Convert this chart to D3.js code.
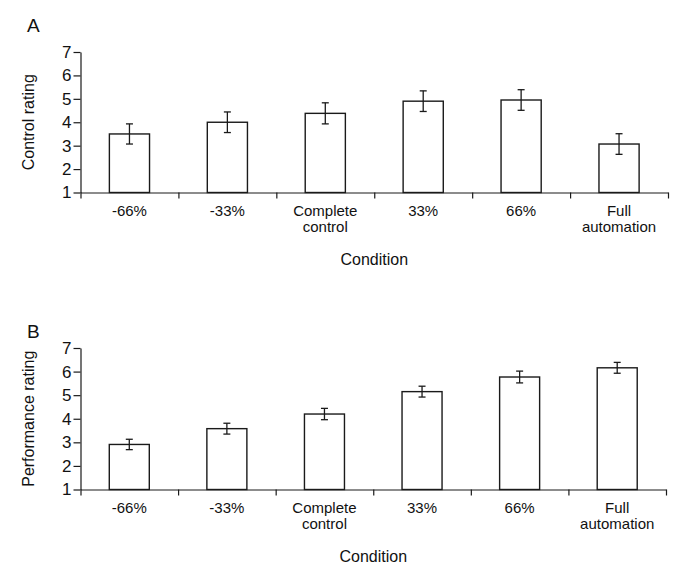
<!DOCTYPE html>
<html>
<head>
<meta charset="utf-8">
<script src="https://cdn.jsdelivr.net/npm/d3@7"></script>
<style>
  html, body { margin: 0; padding: 0; background: #fff; }
  svg { display: block; }
  text { font-family: "Liberation Sans", Arial, Helvetica, sans-serif; fill: #111; }
</style>
</head>
<body>
<svg id="chart" width="685" height="572"></svg>
<script>
const categories = ["-66%", "-33%", "Complete\ncontrol", "33%", "66%", "Full\nautomation"];
const controlMeans = [3.5, 4.0, 4.38, 4.9, 4.95, 3.07];
const controlErrors = [0.43, 0.44, 0.45, 0.44, 0.44, 0.44];
const performanceMeans = [2.91, 3.58, 4.2, 5.15, 5.77, 6.16];
const performanceErrors = [0.22, 0.23, 0.24, 0.23, 0.25, 0.23];
const yTicks = [1, 2, 3, 4, 5, 6, 7];
const panelLetters = ["A", "B"];
const yTitles = ["Control rating", "Performance rating"];
const xTitle = "Condition";

const svg = d3.select("#chart");

const panels = [
  { letter: panelLetters[0], title: yTitles[0], means: controlMeans, errs: controlErrors,
    top: 52, bottom: 192.5, left: 80.5, right: 668, letterY: 32 },
  { letter: panelLetters[1], title: yTitles[1], means: performanceMeans, errs: performanceErrors,
    top: 348, bottom: 489.5, left: 80.5, right: 666, letterY: 338 }
];

panels.forEach(p => {
  const g = svg.append("g");
  const x = d3.scaleBand().domain(categories).range([p.left, p.right])
    .paddingInner(0.59).paddingOuter(0.295);
  const xb = d3.scaleLinear().domain([0, categories.length]).range([p.left, p.right]);
  const y = d3.scaleLinear().domain([1, 7]).range([p.bottom, p.top]);

  // bars
  g.selectAll("rect.bar").data(p.means).join("rect")
    .attr("class", "bar")
    .attr("x", (d, i) => x(categories[i]))
    .attr("y", d => y(d))
    .attr("width", x.bandwidth())
    .attr("height", d => y(1) - y(d))
    .attr("fill", "#fff")
    .attr("stroke", "#1a1a1a")
    .attr("stroke-width", 1.4);

  // error bars
  const cap = 3.5;
  const eg = g.append("g").attr("stroke", "#1a1a1a").attr("stroke-width", 1.3);
  p.means.forEach((m, i) => {
    const cx = x(categories[i]) + x.bandwidth() / 2;
    const hi = y(m + p.errs[i]), lo = y(m - p.errs[i]);
    eg.append("line").attr("x1", cx).attr("x2", cx).attr("y1", hi).attr("y2", lo);
    eg.append("line").attr("x1", cx - cap).attr("x2", cx + cap).attr("y1", hi).attr("y2", hi);
    eg.append("line").attr("x1", cx - cap).attr("x2", cx + cap).attr("y1", lo).attr("y2", lo);
  });

  // y axis
  const ya = g.append("g").attr("transform", `translate(${p.left},0)`)
    .call(d3.axisLeft(y).tickValues(yTicks).tickFormat(d3.format("d")).tickSize(7).tickPadding(2).tickSizeOuter(0));
  ya.selectAll("text").attr("font-size", 17);
  ya.selectAll("path, line").attr("stroke", "#1a1a1a").attr("stroke-width", 1.2);

  // x axis (boundary ticks)
  const xa = g.append("g").attr("transform", `translate(0,${p.bottom})`)
    .call(d3.axisBottom(xb).tickValues(d3.range(categories.length + 1)).tickFormat("").tickSize(6).tickSizeOuter(0));
  xa.selectAll("path, line").attr("stroke", "#1a1a1a").attr("stroke-width", 1.2);

  // category labels
  categories.forEach(c => {
    const lines = c.split("\n");
    const t = g.append("text")
      .attr("x", x(c) + x.bandwidth() / 2)
      .attr("y", p.bottom + 23)
      .attr("text-anchor", "middle")
      .attr("font-size", 15);
    lines.forEach((ln, k) => {
      t.append("tspan").attr("x", x(c) + x.bandwidth() / 2).attr("dy", k === 0 ? 0 : 16.5).text(ln);
    });
  });

  // x title
  g.append("text")
    .attr("x", (p.left + p.right) / 2)
    .attr("y", p.bottom + 72)
    .attr("text-anchor", "middle")
    .attr("font-size", 16)
    .text(xTitle);

  // y title
  g.append("text")
    .attr("transform", `translate(34,${(p.top + p.bottom) / 2}) rotate(-90)`)
    .attr("text-anchor", "middle")
    .attr("font-size", 16)
    .text(p.title);

  // panel letter
  g.append("text")
    .attr("x", 27)
    .attr("y", p.letterY)
    .attr("font-size", 19)
    .text(p.letter);
});
</script>
</body>
</html>
